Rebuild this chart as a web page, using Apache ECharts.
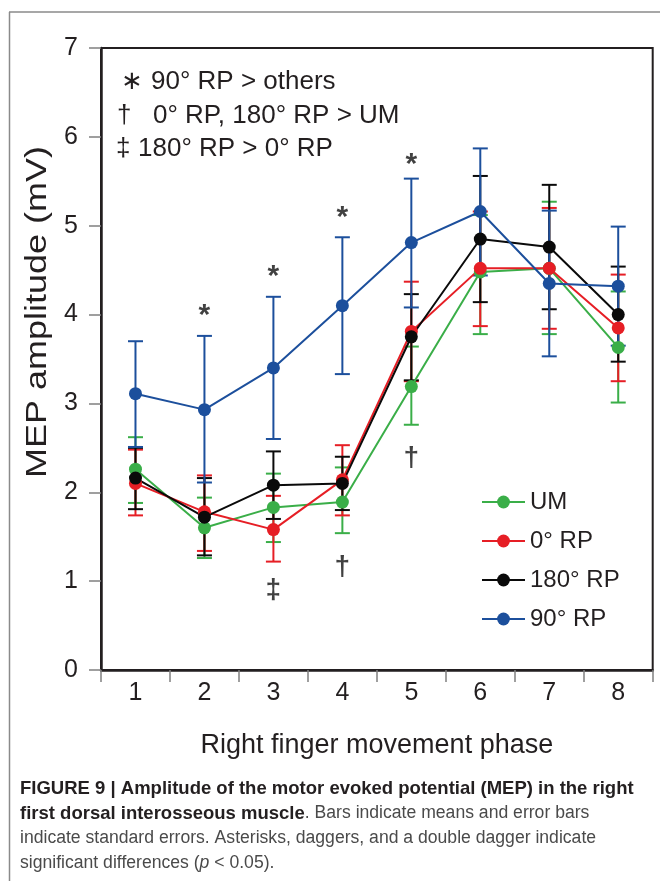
<!DOCTYPE html>
<html>
<head>
<meta charset="utf-8">
<script src="https://cdn.jsdelivr.net/npm/echarts@6/dist/echarts.min.js"></script>
<style>
  html, body { margin: 0; padding: 0; background: #fff; }
  #chart { width: 660px; height: 881px; }
</style>
</head>
<body>
<div id="chart"></div>
<script>
// values (mV)
var phases = ['1', '2', '3', '4', '5', '6', '7', '8'];

var umMean  = [2.26, 1.60, 1.83, 1.89, 3.19, 4.48, 4.52, 3.63];
var umUpper = [2.62, 1.94, 2.21, 2.28, 3.64, 5.12, 5.27, 4.26];
var umLower = [1.88, 1.26, 1.44, 1.54, 2.76, 3.78, 3.78, 3.01];

var rp0Mean  = [2.10, 1.78, 1.58, 2.14, 3.81, 4.52, 4.52, 3.85];
var rp0Upper = [2.48, 2.19, 1.96, 2.53, 4.37, 5.16, 5.20, 4.45];
var rp0Lower = [1.74, 1.34, 1.22, 1.74, 3.25, 3.87, 3.84, 3.25];

var rp180Mean  = [2.16, 1.72, 2.08, 2.10, 3.75, 4.85, 4.76, 4.00];
var rp180Upper = [2.50, 2.16, 2.46, 2.40, 4.23, 5.56, 5.46, 4.54];
var rp180Lower = [1.81, 1.29, 1.70, 1.80, 3.26, 4.14, 4.06, 3.47];

var rp90Mean  = [3.11, 2.93, 3.40, 4.10, 4.81, 5.16, 4.35, 4.32];
var rp90Upper = [3.70, 3.76, 4.20, 4.87, 5.53, 5.87, 5.17, 4.99];
var rp90Lower = [2.51, 2.11, 2.60, 3.33, 4.08, 4.44, 3.53, 3.65];

// significance marks: [phase index, y position, symbol]
var asterisks = [[1, 3.99, '*'], [2, 4.43, '*'], [3, 5.09, '*'], [4, 5.69, '*']];
var daggers = [[2, 0.90, '‡'], [3, 1.16, '†'], [4, 2.38, '†']];

var yTicks = [0, 7, 1]; // min, max, interval

var FONT = "'Liberation Sans', Arial, sans-serif";
var INK = '#231f20';

var chart = echarts.init(document.getElementById('chart'));

function errBars(name, color, lower, upper) {
  return {
    type: 'custom',
    name: name + ' err',
    renderItem: function (params, api) {
      var x = api.value(0);
      var hi = api.coord([x, api.value(2)]);
      var lo = api.coord([x, api.value(1)]);
      var hw = 7.5;
      var st = { stroke: color, lineWidth: 2 };
      return {
        type: 'group',
        children: [
          { type: 'line', shape: { x1: hi[0], y1: hi[1], x2: lo[0], y2: lo[1] }, style: st },
          { type: 'line', shape: { x1: hi[0] - hw, y1: hi[1], x2: hi[0] + hw, y2: hi[1] }, style: st },
          { type: 'line', shape: { x1: lo[0] - hw, y1: lo[1], x2: lo[0] + hw, y2: lo[1] }, style: st }
        ]
      };
    },
    encode: { x: 0, y: [1, 2] },
    data: lower.map(function (v, i) { return [i, v, upper[i]]; }),
    silent: true
  };
}

function meanLine(name, color, mean) {
  return {
    type: 'line',
    name: name,
    data: mean,
    symbol: 'circle',
    symbolSize: 13,
    lineStyle: { color: color, width: 2 },
    itemStyle: { color: color },
    silent: true
  };
}

function marks(list, size) {
  return {
    type: 'scatter',
    name: 'marks',
    symbolSize: 0,
    data: list.map(function (d) { return [d[0], d[1], d[2]]; }),
    label: {
      show: true,
      position: 'inside',
      formatter: function (p) { return p.value[2]; },
      color: '#111',
      fontSize: size,
      fontWeight: 'bold',
      fontFamily: FONT
    },
    silent: true
  };
}

var CAP = "'Liberation Sans Narrow', 'Liberation Sans', sans-serif";

var option = {
  animation: false,
  backgroundColor: '#fff',
  grid: {
    left: 101, right: 7.3, top: 48, bottom: 211,
    show: true, borderColor: INK, borderWidth: 2
  },
  legend: {
    data: ['UM', '0° RP', '180° RP', '90° RP'],
    orient: 'vertical',
    left: 481, top: 489,
    padding: 0,
    itemWidth: 43, itemHeight: 16, itemGap: 13,
    textStyle: { fontSize: 24, fontFamily: FONT, color: INK, lineHeight: 26 }
  },
  xAxis: {
    type: 'category',
    data: phases,
    boundaryGap: true,
    name: 'Right finger movement phase',
    nameLocation: 'middle',
    nameGap: 62,
    nameTextStyle: { fontSize: 27, fontFamily: FONT, color: INK },
    axisLine: { lineStyle: { color: INK, width: 2.5 } },
    axisTick: { show: true, length: 12, lineStyle: { color: '#808080', width: 1.5 } },
    axisLabel: { fontSize: 25, fontFamily: FONT, color: INK, margin: 11 }
  },
  yAxis: {
    type: 'value',
    min: yTicks[0], max: yTicks[1], interval: yTicks[2],
    splitLine: { show: false },
    axisLine: { show: true, lineStyle: { color: INK, width: 2.5 } },
    axisTick: { show: true, length: 12, lineStyle: { color: '#808080', width: 1.5 } },
    axisLabel: { fontSize: 25, fontFamily: FONT, color: INK, margin: 23 }
  },
  graphic: [
    // outer figure frame
    { type: 'line', shape: { x1: 9, y1: 12, x2: 660, y2: 12 }, style: { stroke: '#8a8a8a', lineWidth: 1.5 } },
    { type: 'line', shape: { x1: 9.5, y1: 12, x2: 9.5, y2: 881 }, style: { stroke: '#8a8a8a', lineWidth: 1.5 } },
    // y axis title (slightly stretched along its length in the original)
    {
      type: 'text', x: 38, y: 312, rotation: Math.PI / 2, scaleX: 1.2,
      style: { text: 'MEP amplitude (mV)', fontSize: 30, fontFamily: FONT, fill: INK, align: 'center', verticalAlign: 'middle' }
    },
    // key to significance marks
    { type: 'text', left: 121, top: 69, style: { text: '∗', fontSize: 26, fontFamily: FONT, fill: INK } },
    { type: 'text', left: 151, top: 69, style: { text: '90° RP > others', fontSize: 26, fontFamily: FONT, fill: INK } },
    { type: 'text', left: 117, top: 103, style: { text: '†', fontSize: 26, fontFamily: FONT, fill: INK } },
    { type: 'text', left: 153, top: 103, style: { text: '0° RP, 180° RP > UM', fontSize: 26, fontFamily: FONT, fill: INK } },
    { type: 'text', left: 116, top: 136, style: { text: '‡', fontSize: 26, fontFamily: FONT, fill: INK } },
    { type: 'text', left: 138, top: 136, style: { text: '180° RP > 0° RP', fontSize: 26, fontFamily: FONT, fill: INK } },
    // caption
    {
      type: 'text', left: 20, top: 776,
      style: {
        text: '{b|FIGURE 9 | Amplitude of the motor evoked potential (MEP) in the right}\n' +
              '{b|first dorsal interosseous muscle}{r|. Bars indicate means and error bars}\n' +
              '{r|indicate standard errors. Asterisks, daggers, and a double dagger indicate}\n' +
              '{r|significant differences (}{i|p}{r| < 0.05).}',
        fontFamily: CAP,
        fontSize: 17,
        lineHeight: 25,
        rich: {
          b: { fontWeight: 'bold', fill: '#231f20', fontSize: 18.5, lineHeight: 25, fontFamily: CAP },
          r: { fill: '#4a4a4a', fontSize: 17.6, lineHeight: 25, fontFamily: CAP },
          i: { fill: '#4a4a4a', fontStyle: 'italic', fontSize: 17.6, lineHeight: 25, fontFamily: CAP }
        }
      }
    }
  ],
  series: [
    errBars('UM', '#3aae48', umLower, umUpper),
    meanLine('UM', '#3aae48', umMean),
    errBars('0° RP', '#e61e25', rp0Lower, rp0Upper),
    meanLine('0° RP', '#e61e25', rp0Mean),
    errBars('180° RP', '#0a0a0a', rp180Lower, rp180Upper),
    meanLine('180° RP', '#0a0a0a', rp180Mean),
    errBars('90° RP', '#1c4f9c', rp90Lower, rp90Upper),
    meanLine('90° RP', '#1c4f9c', rp90Mean),
    marks(asterisks, 30),
    marks(daggers, 28)
  ]
};

chart.setOption(option);
</script>
</body>
</html>
